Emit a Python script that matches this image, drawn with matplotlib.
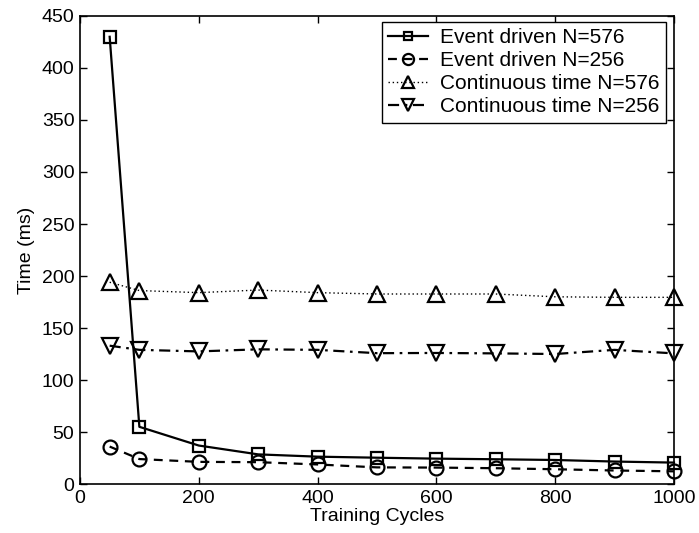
import matplotlib
matplotlib.use('Agg')
import matplotlib.pyplot as plt

plt.rcParams['font.family'] = ['Liberation Sans', 'DejaVu Sans']

# training cycles
cycles = [50, 100, 200, 300, 400, 500, 600, 700, 800, 900, 1000]

# times in ms
event_576 = [430, 55, 37, 28.5, 26.3, 25.3, 24.4, 23.8, 23.1, 21.6, 20.6]
event_256 = [36, 24, 21.3, 21, 18.8, 16, 15.8, 15.2, 14.2, 13, 12.2]
cont_576 = [194, 186, 184, 186.5, 184, 182.7, 182.7, 182.7, 180, 179.5, 179.5]
cont_256 = [133, 129, 127.5, 129.5, 129, 125.8, 126, 125.6, 125, 129, 125.6]

labels = ['Event driven N=576', 'Event driven N=256',
          'Continuous time N=576', 'Continuous time N=256']

fig = plt.figure(figsize=(6.99, 5.33), dpi=100)
ax = fig.add_axes([0.1144, 0.0919, 0.8498, 0.8781])

common = dict(color='black', markerfacecolor='none', markeredgecolor='black',
              markeredgewidth=1.6, clip_on=False, zorder=3)
ax.plot(cycles, event_576, linestyle='-', linewidth=1.6, marker='s',
        markersize=8, label=labels[0], **common)
ax.plot(cycles, event_256, linestyle=(0, (4, 3)), linewidth=1.6, marker='o',
        markersize=10, label=labels[1], **common)
ax.plot(cycles, cont_576, linestyle=(0, (1, 2)), linewidth=1.0, marker='^',
        markersize=11, label=labels[2], **common)
ax.plot(cycles, cont_256, linestyle=(0, (5, 2.5, 1.2, 2.5)), linewidth=1.6,
        marker='v', markersize=11, label=labels[3], **common)

ax.set_xlim(0, 1000)
ax.set_ylim(0, 450)
ax.set_xticks(range(0, 1001, 200))
ax.set_yticks(range(0, 451, 50))
ax.tick_params(direction='in', top=True, right=True, length=5, width=1,
               labelsize=14, pad=4)
for s in ax.spines.values():
    s.set_linewidth(1.2)

ax.set_xlabel('Training Cycles', fontsize=14, labelpad=1)
ax.set_ylabel('Time (ms)', fontsize=14, labelpad=5)

leg = ax.legend(loc='upper right', bbox_to_anchor=(0.9865, 0.988),
                fontsize=15, handlelength=1.9, handletextpad=0.6,
                borderpad=0.3, labelspacing=0.2, borderaxespad=0,
                markerscale=0.8, fancybox=False, framealpha=1)
leg.get_frame().set_edgecolor('black')
leg.get_frame().set_linewidth(1.0)

fig.savefig('out.png', dpi=100)
